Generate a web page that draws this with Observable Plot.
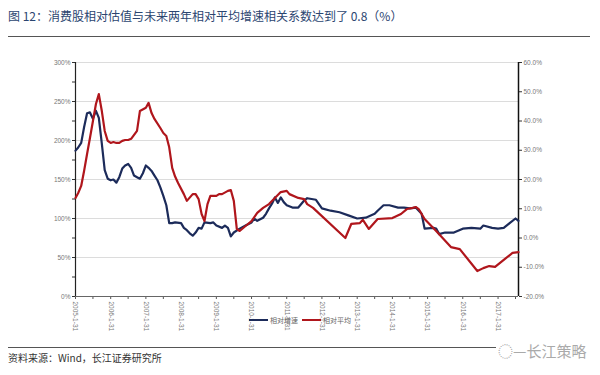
<!DOCTYPE html>
<html><head><meta charset="utf-8">
<script src="https://cdn.jsdelivr.net/npm/d3@7"></script>
<script src="https://cdn.jsdelivr.net/npm/@observablehq/plot@0.6"></script>
<style>
body{margin:0;width:600px;height:375px;position:relative;background:#fff;font-family:"Noto Sans CJK SC","Noto Sans",sans-serif;overflow:hidden}
#title{position:absolute;left:8px;top:7px;font-size:12px;color:#2b4570;white-space:nowrap}
#trule{position:absolute;left:8px;top:36px;width:582px;height:0;border-top:1.5px solid #555}
#chart{position:absolute;left:0;top:40px}
.leg{position:absolute;top:315px;font-size:7px;color:#666;white-space:nowrap;display:flex;align-items:center}
.leg span.sw{display:inline-block;width:19px;height:2px;margin-right:2px}
#frule{position:absolute;left:8px;top:347px;width:488px;height:0;border-top:1px solid #555}
#source{position:absolute;left:8px;top:350px;font-size:10px;color:#333;white-space:nowrap}
#logo{position:absolute;left:498px;top:340px;font-size:15px;color:#aaa;white-space:nowrap}
</style></head><body>
<div id="title">图 12：消费股相对估值与未来两年相对平均增速相关系数达到了 0.8（%）</div>
<div id="trule"></div>
<div id="chart"></div>
<div class="leg" style="left:249px"><span class="sw" style="background:#1c2b5a"></span>相对增速</div>
<div class="leg" style="left:302px"><span class="sw" style="background:#b0161c"></span>相对平均</div>
<div id="frule"></div>
<div id="source">资料来源：Wind，长江证券研究所</div>
<div id="logo">◌—长江策略</div>
<script>
// Relative valuation (left axis, %)
const valDates = ["2005-01","2005-02","2005-03","2005-04","2005-05","2005-06","2005-07","2005-08","2005-09","2005-10","2005-11","2005-12",
"2006-01","2006-02","2006-03","2006-04","2006-05","2006-06","2006-07","2006-08","2006-09","2006-10","2006-11","2006-12",
"2007-01","2007-02","2007-03","2007-04","2007-05","2007-06","2007-07","2007-08","2007-09","2007-10","2007-11",
"2008-01","2008-02","2008-03","2008-04","2008-05","2008-06","2008-07","2008-08","2008-09","2008-11","2008-12",
"2009-01","2009-03","2009-04","2009-05","2009-06","2009-07","2009-09","2009-11",
"2010-01","2010-02","2010-03","2010-05","2010-06","2010-07","2010-08","2010-09","2010-10","2010-11","2010-12",
"2011-01","2011-03","2011-05","2011-07","2011-08","2011-11",
"2012-01","2012-04","2012-07","2012-10",
"2013-01","2013-04","2013-07","2013-08","2013-10","2013-12",
"2014-03","2014-05","2014-07","2014-09","2014-11","2014-12",
"2015-03","2015-04","2015-05","2015-07","2015-10",
"2016-01","2016-04","2016-07","2016-08","2016-11",
"2017-01","2017-03","2017-05","2017-07","2017-08"];
const valValues = [187,191,197,217,235,236,228,238,229,196,162,151,
149,150,146,153,164,168,170,165,155,153,151,158,
168,165,161,155,149,140,129,117,94,94,95,
94,88,85,81,78,82,88,87,95,94,95,
91,88,91,88,77,82,87,91,
95,100,97,101,106,113,119,127,120,127,121,
117,114,114,123,126,124,
113,110,108,104,
100,101,106,110,117,117,
114,114,113,114,106,87,
88,87,80,82,82,
87,88,87,91,88,
87,88,94,100,97];

// Relative average growth, next two years (right axis, %)
const growthDates = ["2005-01","2005-02","2005-03","2005-04","2005-05","2005-06","2005-07","2005-08","2005-09","2005-10","2005-11","2005-12",
"2006-01","2006-02","2006-03","2006-04","2006-05","2006-06","2006-07","2006-08","2006-10","2006-11",
"2007-01","2007-02","2007-03","2007-04","2007-06","2007-07","2007-08","2007-09","2007-10","2007-11","2007-12",
"2008-02","2008-03","2008-05","2008-06","2008-07","2008-08","2008-09","2008-10","2008-11",
"2009-01","2009-02","2009-03","2009-05","2009-06","2009-07","2009-08","2009-09","2009-11",
"2010-01","2010-03","2010-05","2010-07","2010-09","2010-11",
"2011-01","2011-02","2011-05","2011-07","2011-08","2011-10",
"2012-09","2012-11",
"2013-02","2013-03","2013-05","2013-08",
"2014-01","2014-04","2014-06","2014-08","2014-09","2014-10","2014-12",
"2015-04","2015-09","2015-12",
"2016-06","2016-08","2016-10","2016-12",
"2017-03","2017-06","2017-08"];
const growthValues = [13.7,15.4,17.8,22.9,28.7,34.2,40.0,45.8,49.2,43.4,36.6,33.2,
32.5,32.8,32.5,32.5,33.2,33.5,33.5,33.9,36.6,43.4,
44.5,46.2,42.7,40.7,37.6,35.9,34.9,31.0,24.0,21.0,18.8,
15.0,12.7,15.0,15.0,13.3,8.2,5.8,11.6,14.4,
14.4,15.0,15.0,16.1,16.4,12.7,3.1,2.4,4.1,
5.8,8.6,10.3,11.6,13.7,15.7,
16.1,15.0,13.7,13.3,11.6,10.3,
0.0,4.8,
5.1,6.2,3.1,6.5,
6.8,8.2,9.9,10.3,10.6,9.9,6.5,
2.4,-3.1,-3.8,
-11.3,-10.3,-9.6,-9.9,
-7.5,-5.1,-4.8];

const leftTicks = [0,50,100,150,200,250,300];
const leftMinor = [25,75,125,175,225,275];
const rightTicks = [-20,-10,0,10,20,30,40,50,60];
const xTickLabels = ["2005-1-31","2006-1-31","2007-1-31","2008-1-31","2009-1-31","2010-1-31","2011-1-31","2012-1-31","2013-1-31","2014-1-31","2015-1-31","2016-1-31","2017-1-31"];
const xMinorLabels = ["2005-7-31","2006-7-31","2007-7-31","2008-7-31","2009-7-31","2010-7-31","2011-7-31","2012-7-31","2013-7-31","2014-7-31","2015-7-31","2016-7-31","2017-7-31"];
const xRange = ["2005-1-31","2017-8-31"];

const parseDay = d3.utcParse("%Y-%m-%d");
const parseM = d3.utcParse("%Y-%m");
const monthEnd = s => d3.utcDay.offset(d3.utcMonth.offset(parseM(s), 1), -1);
const lMin = leftTicks[0], lMax = leftTicks[leftTicks.length-1];
const rMin = rightTicks[0], rMax = rightTicks[rightTicks.length-1];
const toLeft = r => (r - rMin) * (lMax - lMin) / (rMax - rMin) + lMin;
const toRight = p => (p - lMin) * (rMax - rMin) / (lMax - lMin) + rMin;

const navyData = valDates.map((d,i)=>({date: monthEnd(d), v: valValues[i]}));
const redData = growthDates.map((d,i)=>({date: monthEnd(d), v: toLeft(growthValues[i])}));
const xTicks = xTickLabels.map(parseDay);
const xMinor = xMinorLabels.map(parseDay);
const xDomain = xRange.map(parseDay);
const fmtX = d3.utcFormat("%Y-%-m-%-d");

const chart = Plot.plot({
  width: 600, height: 300,
  marginTop: 22, marginBottom: 44, marginLeft: 75, marginRight: 82,
  style: {fontFamily: "'Liberation Sans', Arial, sans-serif", fontSize: "6.5px", color: "#777", background: "transparent"},
  x: {type: "utc", domain: xDomain, label: null},
  y: {domain: [lMin, lMax], label: null},
  marks: [
    Plot.gridY(leftTicks.filter(d => d > 0), {stroke: "#dcdcdc", strokeOpacity: 1}),
    Plot.axisY(leftTicks, {anchor: "left", tickFormat: d => d + "%", tickSize: 3, tickPadding: 2, stroke: "#333", fill: "#777", label: null}),
    Plot.axisY(leftMinor, {anchor: "left", tickFormat: () => "", tickSize: 3, stroke: "#333", label: null}),
    Plot.axisY(rightTicks.map(toLeft), {anchor: "right", tickFormat: p => toRight(p).toFixed(1) + "%", tickSize: 3, tickPadding: 2, stroke: "#333", fill: "#777", label: null}),
    Plot.axisX(xTicks, {anchor: "bottom", tickFormat: fmtX, tickRotate: 90, tickSize: 3, tickPadding: 2, stroke: "#555", fill: "#777", label: null}),
    Plot.axisX(xMinor, {anchor: "bottom", tickFormat: () => "", tickSize: 3, stroke: "#555", label: null}),
    Plot.ruleY([lMin], {stroke: "#666", strokeWidth: 1.2}),
    Plot.ruleX([xDomain[0]], {stroke: "#222", strokeWidth: 1.2}),
    Plot.ruleX([xDomain[1]], {stroke: "#111", strokeWidth: 1.5}),
    Plot.line(navyData, {x: "date", y: "v", stroke: "#1c2b5a", strokeWidth: 2.2, curve: "linear"}),
    Plot.line(redData, {x: "date", y: "v", stroke: "#b0161c", strokeWidth: 2.2, curve: "linear"})
  ]
});
document.getElementById("chart").appendChild(chart);
</script>
</body></html>
